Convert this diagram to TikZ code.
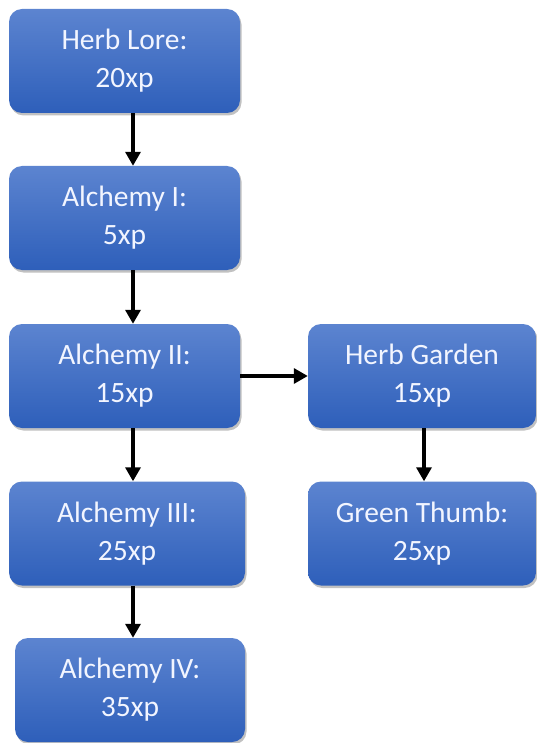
\documentclass[tikz,border=0pt]{standalone}
\usepackage{fontspec}
\setmainfont{Carlito}
\usetikzlibrary{arrows.meta,shadows}
\definecolor{boxtop}{HTML}{5C84D0}
\definecolor{boxbot}{HTML}{2E5FBA}
\definecolor{boxtext}{HTML}{F2F5FF}
\tikzset{
  skill/.style={
    rectangle, rounded corners=13pt,
    top color=boxtop, bottom color=boxbot,
    draw=none, text=boxtext, align=center,
    font=\fontsize{29.5}{38}\selectfont,
    minimum width=231pt, minimum height=104pt, inner sep=0pt,
    drop shadow={shadow xshift=1.5pt, shadow yshift=-2.5pt, opacity=0.35, fill=black!70}
  },
  link/.style={line width=3.3pt, -{Triangle[width=15pt,length=14pt]}}
}
\begin{document}
\begin{tikzpicture}[x=1pt,y=-1pt]
  \useasboundingbox (0,0) rectangle (537,743);
  % left column
  \node[skill] (hl) at (124.5,61)  {Herb Lore:\\20xp};
  \node[skill] (a1) at (124.5,218) {Alchemy I:\\5xp};
  \node[skill] (a2) at (124.5,376) {Alchemy II:\\15xp};
  \node[skill, minimum width=236pt] (a3) at (127,533.5) {Alchemy III:\\25xp};
  \node[skill, minimum width=230pt] (a4) at (130,690) {Alchemy IV:\\35xp};
  % right column
  \node[skill, minimum width=228pt] (hg) at (422,376) {Herb Garden\\15xp};
  \node[skill, minimum width=228pt] (gt) at (422,533.5) {Green Thumb:\\25xp};
  % connectors
  \draw[link] ([xshift=8.5pt]hl.south) -- ([xshift=8.5pt]a1.north);
  \draw[link] ([xshift=8.5pt]a1.south) -- ([xshift=8.5pt]a2.north);
  \draw[link] ([xshift=8.5pt]a2.south) -- ([xshift=6pt]a3.north);
  \draw[link] ([xshift=6pt]a3.south) -- ([xshift=3pt]a4.north);
  \draw[link] (a2.east) -- (hg.west);
  \draw[link] ([xshift=2pt]hg.south) -- ([xshift=2pt]gt.north);
\end{tikzpicture}
\end{document}
